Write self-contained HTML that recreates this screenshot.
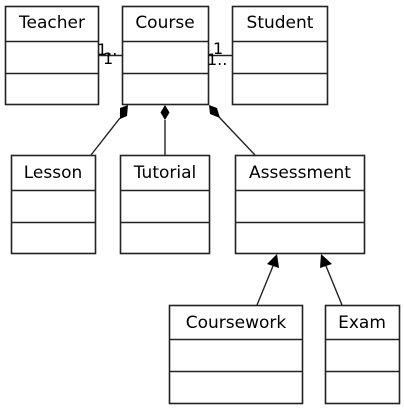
<!DOCTYPE html>
<html><head><style>body{margin:0;background:#fff}svg{display:block}</style></head><body>
<svg width="404" height="411" xmlns="http://www.w3.org/2000/svg" font-family="DejaVu Sans, sans-serif" font-size="17">
<g fill="#fff" stroke="#222" stroke-width="1.6">
<rect x="5.5" y="6.5" width="93" height="98"/><line x1="5.5" y1="41.5" x2="98.5" y2="41.5"/><line x1="5.5" y1="73.5" x2="98.5" y2="73.5"/>
<rect x="122.5" y="6.5" width="86" height="98"/><line x1="122.5" y1="41.5" x2="208.5" y2="41.5"/><line x1="122.5" y1="73.5" x2="208.5" y2="73.5"/>
<rect x="232.5" y="6.5" width="95" height="98"/><line x1="232.5" y1="41.5" x2="327.5" y2="41.5"/><line x1="232.5" y1="73.5" x2="327.5" y2="73.5"/>
<rect x="11.5" y="155.5" width="84" height="98"/><line x1="11.5" y1="190.5" x2="95.5" y2="190.5"/><line x1="11.5" y1="222.5" x2="95.5" y2="222.5"/>
<rect x="120.5" y="155.5" width="89" height="98"/><line x1="120.5" y1="190.5" x2="209.5" y2="190.5"/><line x1="120.5" y1="222.5" x2="209.5" y2="222.5"/>
<rect x="235.5" y="155.5" width="129" height="98"/><line x1="235.5" y1="190.5" x2="364.5" y2="190.5"/><line x1="235.5" y1="222.5" x2="364.5" y2="222.5"/>
<rect x="169.5" y="305.5" width="133" height="98"/><line x1="169.5" y1="339.5" x2="302.5" y2="339.5"/><line x1="169.5" y1="371.5" x2="302.5" y2="371.5"/>
<rect x="325.5" y="305.5" width="74" height="98"/><line x1="325.5" y1="339.5" x2="399.5" y2="339.5"/><line x1="325.5" y1="371.5" x2="399.5" y2="371.5"/>
</g>
<g stroke="#222" stroke-width="1.4" fill="none">
<line x1="98.5" y1="55.5" x2="122.5" y2="55.5"/><line x1="208.5" y1="55.5" x2="232.5" y2="55.5"/>
<line x1="120" y1="118" x2="91" y2="155"/><line x1="165" y1="120" x2="165" y2="155"/><line x1="219" y1="117" x2="255" y2="155"/>
<line x1="257" y1="305" x2="273" y2="266"/><line x1="342" y1="305" x2="326" y2="266"/>
</g>
<g fill="#000">
<polygon points="128,105 127,116 120,119 120,108"/>
<polygon points="165,105 169.5,112.5 165,120 160.5,112.5"/>
<polygon points="209,105 217,108 220,118 210,114"/>
<polygon points="277,254 279,268 267,264"/>
<polygon points="321,254 332,264 320,268"/>
</g>
<g fill="#000" text-anchor="middle">
<text x="52" y="28">Teacher</text><text x="165" y="28">Course</text><text x="280" y="28">Student</text>
<text x="53" y="178">Lesson</text><text x="165" y="178">Tutorial</text><text x="300" y="178">Assessment</text>
<text x="236" y="328">Coursework</text><text x="362" y="328">Exam</text>
</g>
<g fill="#000" font-size="16">
<text x="97" y="55">1..</text><text x="103" y="64">1</text>
<text x="213" y="54">1</text><text x="207" y="65">1..</text>
</g>
</svg>
</body></html>
